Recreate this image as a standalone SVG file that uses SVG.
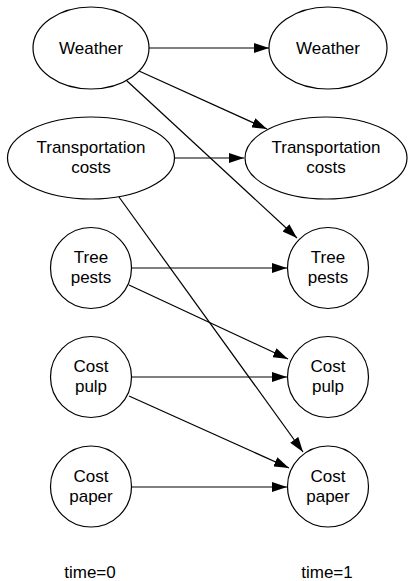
<svg xmlns="http://www.w3.org/2000/svg" width="408" height="581" viewBox="0 0 408 581">
<style>
.n{fill:#fff;stroke:#000;stroke-width:1.2}
.t{font-family:"Liberation Sans",Arial,Helvetica,sans-serif;font-size:17px;fill:#000;text-anchor:middle}
.e{stroke:#000;stroke-width:1.2;fill:none;marker-end:url(#ah)}
</style>
<defs>
<marker id="ah" markerUnits="userSpaceOnUse" markerWidth="15" markerHeight="10" refX="15" refY="5" orient="auto">
<path d="M0,0 L15,5 L0,10 z" fill="#000"/>
</marker>
</defs>
<g id="edges">
<line class="e" x1="149" y1="48" x2="269" y2="48"/>
<line class="e" x1="139" y1="71" x2="267" y2="129"/>
<line class="e" x1="126" y1="80" x2="297" y2="238"/>
<line class="e" x1="174" y1="158" x2="244" y2="158"/>
<line class="e" x1="119" y1="197" x2="303" y2="452"/>
<line class="e" x1="131" y1="268" x2="287" y2="268"/>
<line class="e" x1="129" y1="285" x2="288" y2="359"/>
<line class="e" x1="131" y1="377" x2="287" y2="377"/>
<line class="e" x1="129" y1="396" x2="289" y2="468"/>
<line class="e" x1="131" y1="487" x2="287" y2="487"/>
</g>
<g id="w0"><ellipse class="n" cx="91" cy="48" rx="58" ry="41"/><text class="t" x="91" y="54">Weather</text></g>
<g id="w1"><ellipse class="n" cx="328" cy="48" rx="59" ry="41"/><text class="t" x="328" y="54">Weather</text></g>
<g id="tc0"><ellipse class="n" cx="91" cy="158" rx="83.5" ry="41"/><text class="t" x="91" y="153">Transportation</text><text class="t" x="91" y="173">costs</text></g>
<g id="tc1"><ellipse class="n" cx="326" cy="158" rx="81" ry="41"/><text class="t" x="326" y="153">Transportation</text><text class="t" x="326" y="173">costs</text></g>
<g id="tp0"><circle class="n" cx="91" cy="268" r="40.5"/><text class="t" x="91" y="263">Tree</text><text class="t" x="91" y="283">pests</text></g>
<g id="tp1"><circle class="n" cx="328" cy="268" r="40.5"/><text class="t" x="328" y="263">Tree</text><text class="t" x="328" y="283">pests</text></g>
<g id="cpu0"><circle class="n" cx="91" cy="377" r="40.5"/><text class="t" x="91" y="372">Cost</text><text class="t" x="91" y="392">pulp</text></g>
<g id="cpu1"><circle class="n" cx="328" cy="377" r="40.5"/><text class="t" x="328" y="372">Cost</text><text class="t" x="328" y="392">pulp</text></g>
<g id="cpa0"><circle class="n" cx="91" cy="486.5" r="40.5"/><text class="t" x="91" y="481.5">Cost</text><text class="t" x="91" y="501.5">paper</text></g>
<g id="cpa1"><circle class="n" cx="328" cy="486.5" r="40.5"/><text class="t" x="328" y="481.5">Cost</text><text class="t" x="328" y="501.5">paper</text></g>
<g id="labels">
<text class="t" x="90" y="578">time=0</text>
<text class="t" x="327" y="578">time=1</text>
</g>
</svg>
